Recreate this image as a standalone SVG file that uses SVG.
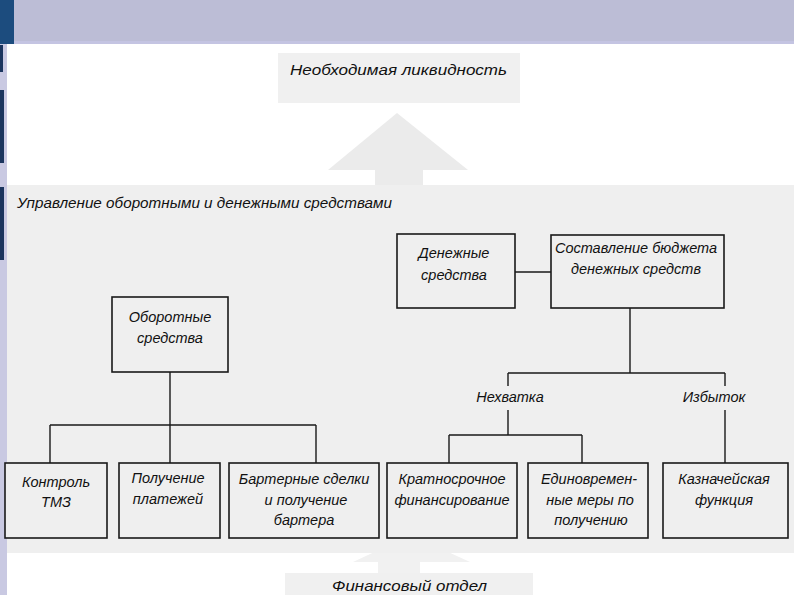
<svg xmlns="http://www.w3.org/2000/svg" width="794" height="595" viewBox="0 0 794 595">
<style>
  .t { font-family: "Liberation Sans", Arial, sans-serif; font-style: italic; font-size: 14.5px; fill: #111; }
  .c { text-anchor: middle; }
  .box { fill: #EFEFEF; stroke: #1a1a1a; stroke-width: 1.6; }
  .con { fill: none; stroke: #1a1a1a; stroke-width: 1.4; }
  .soft { fill: #EBEBEB; }
</style>
<rect width="794" height="595" fill="#FFFFFF"/>
<!-- top band -->
<rect x="0" y="0" width="794" height="44" fill="#BCBDD6"/>
<rect x="0" y="41" width="794" height="3" fill="#C4C4E2"/>
<rect x="0" y="0" width="14" height="44" fill="#1C4C7E"/>
<!-- left strip -->
<rect x="0" y="44" width="7" height="551" fill="#C9C9E2"/>
<rect x="0" y="45" width="3" height="27" fill="#1B355E"/>
<rect x="0" y="90" width="4" height="73" fill="#1B355E"/>
<rect x="0" y="187" width="4" height="73" fill="#1B355E"/>

<!-- top goal box and arrow -->
<g id="liquidity">
  <rect x="278" y="53" width="242" height="50" fill="#F0F0F0"/>
  <text class="t" x="290" y="75" font-size="16" textLength="217" lengthAdjust="spacingAndGlyphs">Необходимая ликвидность</text>
</g>
<polygon class="soft" points="397,113 468,170 423,170 423,186 375,186 375,170 328,170"/>

<!-- bottom arrow -->
<polygon fill="#F1F1F1" points="411,535 470,562 420,562 420,574 378,574 378,562 353,562"/>

<!-- main panel -->
<rect x="7" y="185" width="787" height="368" fill="#EFEFEF"/>
<text class="t" x="17" y="208" textLength="375" lengthAdjust="spacingAndGlyphs">Управление оборотными и денежными средствами</text>

<g id="finance-dept">
  <rect x="285" y="573" width="248" height="30" fill="#F0F0F0"/>
  <text class="t" x="332" y="591" textLength="155" lengthAdjust="spacingAndGlyphs">Финансовый отдел</text>
</g>

<g id="connectors">
  <path class="con" d="M170,372 V425 M50,425 H316 M50,425 V463 M170,425 V463 M316,425 V463"/>
  <path class="con" d="M515,272 H551 M630,308 V373 M508,373 H725 M508,373 V386 M725,373 V386 M508,410 V435 M449,435 H582 M449,435 V463 M582,435 V463 M725,410 V463"/>
</g>

<g id="working-capital">
  <rect class="box" x="112" y="297" width="116" height="75"/>
  <text class="t c" x="170" y="322">Оборотные</text>
  <text class="t c" x="170" y="343">средства</text>
</g>

<g id="cash">
  <rect class="box" x="397" y="234" width="118" height="74"/>
  <text class="t c" x="454" y="258">Денежные</text>
  <text class="t c" x="454" y="280">средства</text>
</g>

<g id="cash-budget">
  <rect class="box" x="551" y="235" width="173" height="73"/>
  <text class="t c" x="636" y="253">Составление бюджета</text>
  <text class="t c" x="636" y="274">денежных средств</text>
</g>

<g id="shortage">
  <text class="t c" x="510" y="402">Нехватка</text>
</g>
<g id="surplus">
  <text class="t c" x="714" y="402">Избыток</text>
</g>

<g id="inventory-control">
  <rect class="box" x="5" y="463" width="102" height="75"/>
  <text class="t c" x="56" y="487">Контроль</text>
  <text class="t c" x="56" y="507">ТМЗ</text>
</g>

<g id="payments">
  <rect class="box" x="119" y="463" width="101" height="75"/>
  <text class="t c" x="168" y="483">Получение</text>
  <text class="t c" x="168" y="504">платежей</text>
</g>

<g id="barter">
  <rect class="box" x="229" y="463" width="150" height="75"/>
  <text class="t c" x="304" y="484">Бартерные сделки</text>
  <text class="t c" x="306" y="505">и получение</text>
  <text class="t c" x="304" y="525">бартера</text>
</g>

<g id="short-term-financing">
  <rect class="box" x="387" y="463" width="130" height="75"/>
  <text class="t c" x="452" y="484">Кратносрочное</text>
  <text class="t c" x="452" y="505">финансирование</text>
</g>

<g id="one-time-measures">
  <rect class="box" x="528" y="463" width="120" height="75"/>
  <text class="t c" x="589" y="484">Единовремен-</text>
  <text class="t c" x="590" y="505">ные меры по</text>
  <text class="t c" x="591" y="525">получению</text>
</g>

<g id="treasury">
  <rect class="box" x="663" y="463" width="125" height="75"/>
  <text class="t c" x="724" y="484">Казначейская</text>
  <text class="t c" x="724" y="505">функция</text>
</g>
</svg>
